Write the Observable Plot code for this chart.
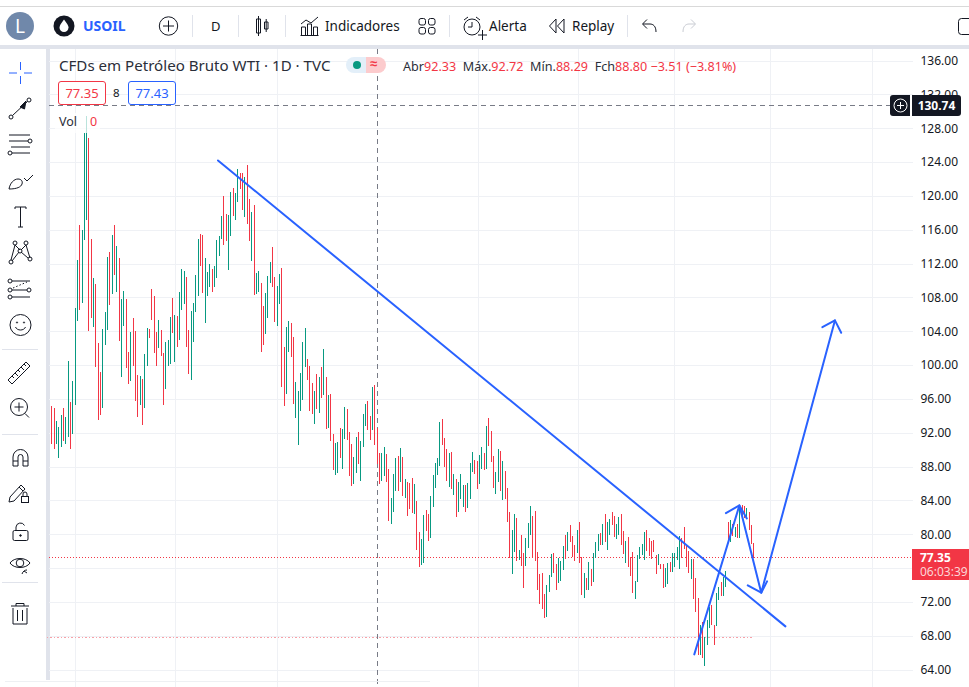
<!DOCTYPE html>
<html lang="pt">
<head>
<meta charset="utf-8">
<title>USOIL</title>
<script src="https://cdn.jsdelivr.net/npm/d3@7"></script>
<script src="https://cdn.jsdelivr.net/npm/@observablehq/plot@0.6"></script>
<style>
html,body{margin:0;padding:0;background:#fff;width:969px;height:687px;overflow:hidden;font-family:"Noto Sans",sans-serif;color:#131722}
#stage{position:relative;width:969px;height:687px;overflow:hidden}
#stage>*{position:absolute}
.t{white-space:nowrap;line-height:1}
#chart{left:0;top:0}
.r{color:#f23645}
</style>
</head>
<body>
<div id="stage">
  <div style="left:0;top:6px;width:969px;height:1px;background:#d9d9d9"></div>
  <div style="left:0;top:45px;width:969px;height:4px;background:#e0e3eb"></div>
  <div style="left:46px;top:45px;width:4px;height:635px;background:#e0e3eb"></div>
  <div id="chart"></div>
  <div style="left:5px;top:681px;width:425px;height:1px;background:#eef0f3"></div>

  <svg style="left:0;top:0" width="969" height="687" fill="none" stroke="#131722" stroke-width="1">
    <circle cx="20" cy="26" r="14" fill="#7088aa" stroke="none"/>
    <circle cx="64" cy="26" r="10.5" fill="#131722" stroke="none"/>
    <path d="M64 19.5c3 4 4.5 6 4.5 8a4.5 4.5 0 0 1-9 0c0-2 1.5-4 4.5-8z" fill="#fff" stroke="none"/>
    <circle cx="168.5" cy="26" r="9.2"/><path d="M168.5 20.5v11M163 26h11"/>
    <g stroke="#e0e3eb"><path d="M192.5 15v22M238.5 15v22M285.5 15v22M449.5 15v22M627.5 15v22"/></g>
    <path d="M256.500 19h4v14h-4zM258.500 16v20M264.500 22h3.500v7h-3.500zM266.200 19v13"/>
    <path d="M301.500 35v-8h4v8M307.500 35v-11h4v11M313.500 35v-8h4v8M300.500 35.500h18M301 24l5-4 5 3 7-6"/>
    <rect x="419" y="18.500" width="6.500" height="6.500" rx="2"/><rect x="428.500" y="18.500" width="6.500" height="6.500" rx="2"/>
    <rect x="419" y="27.500" width="6.500" height="6.500" rx="2"/><rect x="428.500" y="27.500" width="6.500" height="6.500" rx="2"/>
    <circle cx="472" cy="27" r="8"/><path d="M472 22v5h-4M464 20l4-3M480 20l-4-3M478 35h9M482.500 30v10"/>
    <path d="M556 19l-6.500 7 6.500 7zM564 19l-6.500 7 6.500 7z"/>
    <path d="M656 32c0-6-3-8-6-8h-7M647 19.500l-4.500 4.500 4.500 4.500"/>
    <path stroke="#c9ccd3" d="M683 32c0-6 3-8 6-8h6M691 19.500l4.500 4.500-4.500 4.500"/>
    <rect x="958.500" y="18.500" width="14" height="16" rx="3"/>

    <g stroke="#2962ff"><path d="M20.500 62v8M20.500 76v8M9 73h8M24 73h8"/></g>
    <circle cx="11" cy="117" r="2"/><circle cx="29" cy="100" r="2"/><path d="M12.500 115.500l15-14"/><path d="M20 107l6-6 -1.500 8z" fill="#131722"/>
    <path d="M9 135h21M9 141h19M11 147h19M12 153h18"/><circle cx="30" cy="141" r="2"/><circle cx="10" cy="153" r="2"/>
    <path d="M9 189c1-6 5-10 9-10 3 0 5 2 4 5-1 3-5 5-13 5zM24 178l3 3 6-6"/>
    <path d="M15 207h11M20.500 207v20M18 227h5M15 207v2M26 207v2"/>
    <circle cx="15" cy="243" r="2"/><circle cx="26" cy="243" r="2"/><circle cx="11" cy="262" r="2"/><circle cx="30" cy="259" r="2"/><circle cx="20" cy="251" r="2"/>
    <path d="M15 245l-4 15M26 245l4 13M15 245l5 5M26 245l-5 5M12 261l7-9M28 258l-7-6"/>
    <circle cx="10" cy="281" r="2"/><circle cx="10" cy="290" r="2"/><circle cx="10" cy="297" r="2"/><circle cx="29" cy="290" r="2"/>
    <path d="M12 281h18M12 297h18M12 290h15"/><path d="M13 288l14-6" stroke-dasharray="1.500 2"/>
    <circle cx="20.500" cy="325" r="10.500"/><path d="M15.500 327c1.500 4 8.500 4 10 0"/><circle cx="17" cy="322.500" r=".6"/><circle cx="24" cy="322.500" r=".6"/>
    <path stroke="#e0e3eb" d="M2 349.500h36M2 434.500h36M2 582.500h36"/>
    <path d="M8 380l18-18 4 4-18 18zM12 376l2 2M15 373l3 3M18 370l2 2M21 367l3 3M24 364l2 2"/>
    <circle cx="19" cy="407" r="8.500"/><path d="M19 402.500v9M14.500 407h9M25 413.500l4 4"/>
    <path d="M13 466v-9a7.500 7.500 0 0 1 15 0v9h-5v-9a2.500 2.500 0 0 0-5 0v9zM13 461h5M23 461h5"/>
    <path d="M10 497l-1 5 5-1 11-12-4-4zM19 487l4 4"/><rect x="21.500" y="496.500" width="7" height="6"/><path d="M23 496v-2a2 2 0 0 1 4 0v2"/>
    <rect x="13" y="530.500" width="15" height="10" rx="1.500"/><path d="M16 530v-3a4.500 4.500 0 0 1 8.500-1.500"/><circle cx="20.500" cy="535.500" r=".8" fill="#131722"/>
    <path d="M10 563c4-6 16-6 20 0-4 6-16 6-20 0z"/><circle cx="20" cy="563" r="3.800"/><path d="M22 574c1-3 3-4 5-4M24 571l3 2"/>
    <path d="M11 606h18M16 606v-2.500h8v2.500M13 608v16h14v-16M17.500 610v11M22.500 610v11"/>
  </svg>

  <div class="t" style="left:15px;top:17px;font-size:19px;color:#fff">L</div>
  <div class="t" style="left:83px;top:19px;font-size:14px;font-weight:700;color:#2962ff">USOIL</div>
  <div class="t" style="left:211px;top:20px;font-size:13px">D</div>
  <div class="t" style="left:325px;top:20px;font-size:13.500px">Indicadores</div>
  <div class="t" style="left:489px;top:20px;font-size:13.500px">Alerta</div>
  <div class="t" style="left:572px;top:20px;font-size:13.500px">Replay</div>

  <div class="t" style="left:59px;top:58px;font-size:15.100px;color:#2a2e39">CFDs em Petróleo Bruto WTI · 1D · TVC</div>
  <div style="left:346px;top:57px;width:20px;height:16px;border-radius:8px 0 0 8px;background:#e3eff9"></div>
  <div style="left:366px;top:57px;width:20px;height:16px;border-radius:0 8px 8px 0;background:#fccbcd"></div>
  <div style="left:353px;top:61px;width:8px;height:8px;border-radius:50%;background:#089981"></div>
  <div class="t r" style="left:370px;top:57px;font-size:13px;font-weight:700">≈</div>
  <div class="t" style="left:403px;top:61px;font-size:12.600px;color:#2a2e39">Abr<span class="r">92.33</span>&nbsp; Máx.<span class="r">92.72</span>&nbsp; Mín.<span class="r">88.29</span>&nbsp; Fch<span class="r">88.80 −3.51 (−3.81%)</span></div>

  <div class="t r" style="left:58px;top:81px;width:46px;height:22px;border:1px solid #f23645;border-radius:3px;background:#fff;font-size:13px;line-height:22px;text-align:center">77.35</div>
  <div class="t" style="left:113px;top:87px;font-size:11.500px">8</div>
  <div class="t" style="left:128px;top:81px;width:46px;height:22px;border:1px solid #2962ff;border-radius:3px;background:#fff;font-size:13px;line-height:22px;text-align:center;color:#2962ff">77.43</div>
  <div style="left:55px;top:113px;width:45px;height:20px;background:rgba(255,255,255,.72)"></div>
  <div class="t" style="left:59px;top:116px;font-size:12.500px;color:#2a2e39">Vol</div>
  <div class="t r" style="left:90px;top:116px;font-size:12.500px">0</div>

  <div style="left:890px;top:95px;width:20px;height:21px;background:#131722;border-radius:3px 0 0 3px"></div>
  <svg style="left:892px;top:97px" width="17" height="17" fill="none" stroke="#fff"><circle cx="8.500" cy="8.500" r="6.500"/><path d="M8.500 5v7M5 8.500h7"/></svg>
  <div class="t" style="left:912px;top:95px;width:49px;height:21px;background:#131722;border-radius:0 3px 3px 0;color:#fff;font-weight:700;font-size:12px;line-height:21px;text-align:center">130.74</div>
  <div style="left:912px;top:549px;width:57px;height:31px;background:#f23645"></div>
  <div class="t" style="left:920px;top:552px;font-size:12px;font-weight:700;color:#fff">77.35</div>
  <div class="t" style="left:920px;top:566px;font-size:12px;color:#fcd5d8">06:03:39</div>
</div>
<script>
// Each bar: [high, low, up (1 green / 0 red)]
const barsA = [[95.17,90.67,0],[94.93,90.08,0],[93.39,90.67,1],[92.68,89.02,1],[94.10,90.32,1],[94.93,91.03,0],[93.87,90.67,1],[100.49,91.50,1],[95.64,90.08,0],[98.12,91.86,1],[106.75,95.28,1],[112.42,105.21,1],[116.56,106.51,0],[115.97,107.34,1],[127.43,114.79,1],[129.44,117.15,1],[126.84,104.03,0],[114.91,105.57,0],[110.30,104.50,1],[109.59,99.78,0],[102.61,93.51,0],[99.18,94.10,0],[104.27,94.93,1],[106.28,102.38,1],[112.78,104.15,1],[113.37,107.10,0],[115.38,108.40,1],[116.56,110.65,0],[114.08,108.64,1],[112.66,102.85,0],[107.81,98.59,1],[108.76,104.62,1],[107.81,99.66,0],[101.55,97.77,0],[103.91,98.12,1],[105.57,99.89,0],[104.03,95.76,0],[98.83,93.87,0],[98.71,95.28,1],[98.36,92.92,0],[101.31,94.93,1],[104.39,99.89,1],[104.27,103.20,0],[109.00,105.33,0],[108.17,101.43,0],[103.91,99.89,0],[105.33,102.02,1],[104.15,101.08,0],[101.43,95.28,0],[102.73,97.18,1],[102.97,99.89,1],[105.69,100.13,1],[107.93,103.79,0],[105.92,100.37,1],[105.80,102.14,0],[108.64,102.97,1],[111.36,106.51,1],[111.12,107.22,1],[110.41,102.14,0],[104.15,98.95,0],[106.40,98.24,1],[107.34,102.73,1],[110.65,106.28,1],[114.91,108.17,1],[115.50,111.71,0],[115.38,108.52,0],[112.66,104.98,1],[111.00,108.17,1],[111.95,109.23,1],[111.36,108.64,0],[111.71,109.23,1],[114.79,110.30,1]];
const barsB = [[115.26,112.89,1],[117.62,114.90,1],[119.98,114.19,0],[117.86,114.66,0],[117.74,111.24,1],[120.46,115.26,1],[120.93,117.62,0],[120.34,117.15,1],[123.18,119.27,1],[122.70,120.81,0],[122.70,118.33,0],[122.23,117.50,1],[123.65,116.67,0],[119.63,114.66,0],[118.09,112.30,1],[118.92,108.28,0],[110.88,108.40,1],[111.12,108.64,1],[109.70,101.54,0],[106.98,102.37,0],[108.52,103.67,1],[110.53,105.56,1],[112.18,109.70,1],[113.96,109.23,0],[110.41,105.09,0],[109.35,104.62,1],[110.76,107.22,1],[111.47,97.41,0],[102.14,95.16,0],[104.50,96.58,1],[105.21,101.54,1],[104.97,100.95,0],[103.32,95.40,0],[97.98,93.74,1],[96.93,90.55,1],[99.06,94.57,1],[102.73,95.87,1],[104.38,99.77,1],[100.72,98.24,0],[99.89,94.57,0],[97.88,94.22,0],[96.93,93.03,1],[98.95,94.81,0],[98.59,94.33,1],[99.77,96.11,0],[101.90,96.46,1],[98.59,92.44,0],[96.46,92.56,1],[96.58,91.03,0],[91.85,87.60,0],[90.79,87.01,1],[90.91,87.24,1],[92.56,89.02,0],[92.44,87.72,1],[95.04,91.26,1],[94.81,91.14,0],[92.09,86.89,0],[90.67,85.71,0],[89.13,85.94,1],[91.50,87.24,1],[92.09,88.31,0],[91.03,86.30,1],[94.22,90.32,1],[95.40,92.80,1],[95.75,92.33,0],[93.98,91.14,0],[97.41,92.33,1],[97.64,90.55,0],[92.56,88.31,0],[89.61,85.94,0],[89.61,86.30,1],[90.32,86.89,1]];
const barsC = [[89.48,86.17,0],[87.71,81.56,0],[84.28,81.21,1],[87.12,82.63,1],[89.01,85.11,1],[89.25,85.11,0],[90.19,86.17,1],[89.13,84.52,0],[86.53,84.28,1],[86.17,82.16,0],[86.06,82.98,0],[86.65,82.51,0],[85.94,82.39,1],[83.93,78.14,0],[80.26,76.13,0],[79.44,76.36,1],[82.27,76.60,1],[82.86,80.38,0],[82.39,79.20,0],[84.52,79.56,1],[87.00,83.22,1],[88.42,85.46,1],[89.01,87.00,1],[93.27,88.07,1],[93.62,90.55,0],[91.38,87.95,0],[90.07,86.29,0],[89.60,85.58,1],[89.72,85.35,0],[87.12,84.64,1],[86.53,82.04,0],[86.17,82.63,1],[87.12,84.16,1],[85.82,83.22,1],[85.82,82.63,0],[86.06,83.10,1],[88.42,84.16,1],[89.72,87.36,1],[88.77,87.12,0],[88.66,85.35,0],[89.37,85.94,1],[90.31,87.71,1],[89.60,87.59,0],[92.79,87.71,1],[93.74,90.43,0],[92.20,88.54,0],[89.25,85.46,0],[87.36,84.76,1],[90.07,86.17,1],[89.84,85.11,0],[88.66,84.05,1],[87.47,84.16,0],[85.46,81.45,0],[82.63,77.19,0],[80.50,75.30,1],[82.39,77.90,1],[81.92,76.84,0],[78.14,76.95,1],[79.91,76.24,0],[77.78,73.64,0],[79.56,76.24,1],[81.33,78.37,1],[83.34,79.91,1],[82.16,77.31,0],[82.75,76.84,0],[77.90,73.41,0],[75.30,71.75,0],[75.42,71.16,0],[72.94,70.10,0]];
const barsD = [[74.00,70.22,1],[75.18,73.17,1],[77.66,74.94,1],[77.78,75.42,0],[76.48,73.41,0],[77.19,74.24,1],[76.84,74.47,1],[78.61,75.77,1],[79.91,77.07,0],[80.26,78.02,1],[81.09,79.08,0],[79.79,77.31,0],[78.73,76.84,0],[80.50,77.78,1],[81.45,76.60,0],[77.31,72.82,0],[75.42,72.46,1],[74.83,73.41,0],[76.72,73.41,1],[75.89,73.89,0],[77.79,74.36,1],[79.09,77.19,1],[80.03,78.02,1],[80.15,78.73,0],[81.21,78.73,1],[82.40,79.09,0],[81.45,78.14,1],[81.80,79.91,1],[82.63,81.10,0],[82.16,79.68,0],[81.21,79.44,1],[82.04,79.91,1],[82.40,78.73,0],[80.39,77.67,0],[79.20,76.60,1],[79.68,76.13,0],[77.31,75.07,0],[77.90,73.06,0],[74.48,72.35,1],[77.55,74.36,1],[78.49,77.08,1],[78.85,77.55,1],[80.27,76.96,1],[80.50,78.02,0],[79.56,77.43,0],[79.20,77.08,0],[79.32,77.90,0],[77.55,75.30,0],[77.67,76.37,1],[76.48,75.89,0],[76.48,73.65,0],[76.00,73.77,1],[76.60,74.12,1],[76.72,75.54,0],[77.79,75.54,1],[77.79,76.13,1],[78.49,76.96,1],[79.79,75.89,1],[79.56,77.19,0],[80.86,78.26,0],[78.73,76.13,0],[78.02,75.42,0]];
const barsE = [[77.08,74.71,1],[77.08,72.35,0],[74.79,70.81,0],[72.47,65.73,0],[69.27,65.73,1],[69.67,65.33,0],[67.82,64.43,1],[69.86,66.91,1],[71.44,68.88,1],[71.64,69.27,0],[69.27,66.91,0],[73.02,69.19,1],[73.80,72.23,1],[74.40,72.70,0],[74.99,72.70,1],[75.66,73.80,1],[81.49,79.12,0],[81.69,79.12,1],[81.21,79.79,0],[80.90,79.71,1],[81.21,79.52,0],[83.34,79.52,1],[83.46,81.88,0],[83.34,81.88,0],[83.06,81.80,1],[82.67,80.50,0],[81.09,78.85,0],[78.93,77.15,0]];

const yGrid = [136,132,128,124,120,116,112,108,104,100,96,92,88,84,80,76,72,68,64];
const yLabels = [136,132,128,124,120,116,112,108,104,100,96,92,88,84,80,72,68,64];
const gridBars = [10,53.2,97.3,183.6,226.8,267.9,309,353.2];
const crossBar = 140.2, crossPrice = 130.74, lastPrice = 77.35, prevLow = 67.82;

// Drawn lines, in [bar index, price]
const trendLine = [[71.5,124.24],[315.6,69.16]];
const arrowPath = [[276.4,65.85],[295.8,83.46],[305.2,73.14],[336.9,105.33]];
const headA = [[290,82.55],[295.8,83.46],[299,81.92]];
const headB = [[299.4,74.0],[305.2,73.14],[307.7,74.48]];
const headC = [[331.5,104.53],[336.9,105.33],[339.6,103.87]];

const bars = [...barsA,...barsB,...barsC,...barsD,...barsE].map((b,i)=>({i,hi:b[0],lo:b[1],up:b[2]}));
const GREEN="#089981", RED="#f23645", BLUE="#2962ff";
const lineOpts = {x:d=>d[0],y:d=>d[1],stroke:BLUE,strokeWidth:2,curve:"linear"};

const chart = Plot.plot({
  width:969,height:687,
  marginTop:49,marginLeft:49,marginRight:56,marginBottom:0,
  style:{background:"transparent"},
  x:{type:"linear",domain:[0,bars.length-1],range:[51.3,753.3],axis:null},
  y:{type:"linear",domain:[64,136],range:[669.5,60.5],axis:null},
  marks:[
    Plot.ruleY(yGrid,{stroke:"#eff1f5",strokeWidth:1,shapeRendering:"crispEdges"}),
    Plot.ruleX(gridBars,{stroke:"#eff1f5",strokeWidth:1,shapeRendering:"crispEdges"}),
    Plot.axisY(yLabels,{anchor:"right",tickSize:0,tickPadding:7,label:null,tickFormat:d=>d.toFixed(2),fontSize:12,fontFamily:"Noto Sans",fill:"#131722"}),
    Plot.ruleY([prevLow],{x1:-2,x2:302,stroke:"#f7a1a8",strokeDasharray:"1.5 2",strokeWidth:1,shapeRendering:"crispEdges"}),
    Plot.ruleY([lastPrice],{stroke:RED,strokeDasharray:"1 2",strokeWidth:1,shapeRendering:"crispEdges"}),
    Plot.ruleX([crossBar],{stroke:"#787b86",strokeDasharray:"5 4",strokeWidth:1,shapeRendering:"crispEdges"}),
    Plot.ruleY([crossPrice],{x1:-1,x2:360.8,stroke:"#787b86",strokeDasharray:"5 4",strokeWidth:1,shapeRendering:"crispEdges"}),
    Plot.ruleX(bars,{x:"i",y1:"lo",y2:"hi",stroke:d=>d.up?GREEN:RED,strokeWidth:1,shapeRendering:"crispEdges"}),
    Plot.line(trendLine,lineOpts),
    Plot.line(arrowPath,lineOpts),
    Plot.line(headA,lineOpts),
    Plot.line(headB,lineOpts),
    Plot.line(headC,lineOpts)
  ]
});
document.getElementById("chart").appendChild(chart);
</script>
</body>
</html>
